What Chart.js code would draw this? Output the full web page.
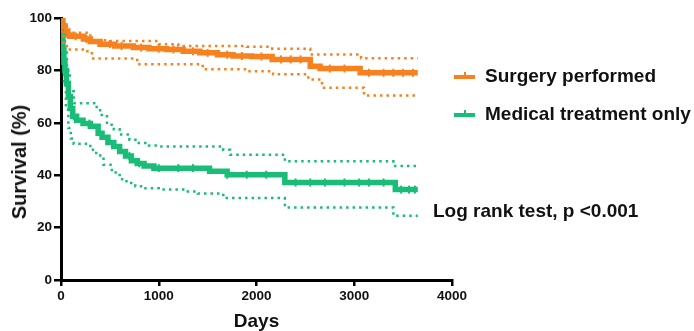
<!DOCTYPE html>
<html>
<head>
<meta charset="utf-8">
<script src="https://cdn.jsdelivr.net/npm/chart.js@4/dist/chart.umd.min.js"></script>
<style>
  html, body { margin: 0; padding: 0; background: #fff; }
  #wrap { position: relative; width: 694px; height: 331px; font-family: Arial, "Liberation Sans", sans-serif; font-weight: bold; color: #111; }
  #chart { position: absolute; left: 0; top: 0; }
  .leg { position: absolute; left: 485px; font-size: 19px; line-height: 22px; white-space: nowrap; }
  .mk { position: absolute; left: 454px; width: 21px; height: 4px; }
  .mk::after { content: ''; position: absolute; left: 10px; top: -3px; width: 2px; height: 3px; background: inherit; }
  #ytitle { position: absolute; left: 19px; top: 162px; font-size: 20px; line-height: 22px; white-space: nowrap;
            transform: translate(-50%, -50%) rotate(-90deg); }
</style>
</head>
<body>
<div id="wrap">
  <canvas id="chart" width="694" height="331"></canvas>
  <div id="ytitle">Survival (%)</div>
  <div class="mk" style="top:75px;background:#f7811e"></div>
  <div class="leg" style="top:65px">Surgery performed</div>
  <div class="mk" style="top:113px;background:#19bd78"></div>
  <div class="leg" style="top:103px">Medical treatment only</div>
  <div class="leg" style="left:433px;top:200px">Log rank test, p &lt;0.001</div>
</div>
<script>
// Kaplan-Meier estimates (days, survival %)
const surgeryDays = [0, 20, 40, 70, 90, 230, 300, 400, 550, 740, 900, 1080, 1250, 1420, 1600, 1760, 1950, 2160, 2550, 2650, 3060, 3650];
const surgerySurv = [100, 97, 95, 93.5, 93, 92, 91, 90, 89.3, 88.7, 88.3, 88, 87.3, 86.7, 86, 85.5, 85.3, 84.2, 81.6, 80.7, 79.1, 79.1];
const surgeryUpperDays = [0, 20, 60, 300, 500, 1000, 1200, 1900, 2160, 2550, 3070, 3650];
const surgeryUpperSurv = [100, 97, 94.4, 91.5, 91.2, 90, 89.3, 89, 88.3, 86.1, 84.6, 84.6];
const surgeryLowerDays = [0, 10, 25, 60, 270, 330, 780, 1450, 1900, 2170, 2530, 2670, 3100, 3650];
const surgeryLowerSurv = [100, 93, 90, 88, 86.5, 84.5, 82.3, 80.4, 79.7, 78.5, 76.5, 73.4, 70.4, 70.4];
const surgeryCensored = [150, 260, 500, 620, 820, 1000, 1150, 1350, 1500, 1700, 1850, 2050, 2250, 2350, 2450, 2750, 2900, 3150, 3300, 3400, 3500, 3600];

const medicalDays = [0, 10, 20, 30, 40, 55, 75, 95, 120, 160, 225, 300, 380, 420, 480, 540, 600, 660, 720, 780, 850, 950, 1520, 1700, 2290, 3420, 3650];
const medicalSurv = [100, 94, 88, 83, 80, 75, 70, 65.5, 62.5, 61, 59.7, 58.7, 56, 54.5, 52.5, 51, 49, 47.3, 45.5, 44.5, 43.5, 42.7, 41.5, 40.2, 37.2, 34.5, 34.5];
const medicalUpperDays = [0, 20, 40, 60, 90, 130, 340, 400, 470, 540, 600, 700, 780, 900, 1000, 1660, 1730, 2290, 3400, 3650];
const medicalUpperSurv = [100, 95, 88, 80, 72, 67.5, 66, 63, 59.3, 57.5, 55.5, 53.5, 52.3, 51.3, 51, 49.7, 47.8, 45.3, 43.5, 43.5];
const medicalLowerDays = [0, 15, 30, 50, 75, 100, 130, 300, 360, 435, 520, 600, 670, 760, 840, 1000, 1250, 1400, 1660, 2290, 3400, 3650];
const medicalLowerSurv = [100, 85, 75, 65, 58, 54, 52, 49.7, 47.5, 44, 41, 38.5, 37, 35.8, 35, 34.5, 33.8, 33, 31.3, 27.7, 24.5, 24.5];
const medicalCensored = [130, 290, 700, 800, 1000, 1200, 1350, 1700, 1900, 2100, 2400, 2550, 2700, 2900, 3050, 3150, 3300, 3480, 3560, 3620];

const xTicks = [0, 1000, 2000, 3000, 4000];
const yTicks = [0, 20, 40, 60, 80, 100];

const ORANGE = '#f7811e';
const GREEN = '#19bd78';
const FONT = 'Arial, "Liberation Sans", sans-serif';

const pts = (days, vals) => days.map((d, i) => ({ x: d, y: vals[i] }));
// survival value of a step curve at time t
function stepAt(days, vals, t) {
  let v = vals[0];
  for (let i = 0; i < days.length; i++) if (days[i] <= t) v = vals[i];
  return v;
}
const censorPts = (cens, days, vals) => cens.map(t => ({ x: t, y: stepAt(days, vals, t) }));

const dotted = (data, color) => ({
  data, borderColor: color, borderWidth: 2.5, borderDash: [2.5, 4],
  stepped: true, pointRadius: 0, fill: false,
});
const solid = (data, color) => ({
  data, borderColor: color, borderWidth: 5.5, stepped: true, pointRadius: 0, fill: false,
});
const ticks = (data, color) => ({
  data, showLine: false, pointStyle: 'line', pointRotation: 90, pointRadius: 4,
  pointBorderWidth: 2, pointBorderColor: color, pointBackgroundColor: color,
});

new Chart(document.getElementById('chart'), {
  type: 'line',
  data: {
    datasets: [
      dotted(pts(surgeryUpperDays, surgeryUpperSurv), ORANGE),
      dotted(pts(surgeryLowerDays, surgeryLowerSurv), ORANGE),
      dotted(pts(medicalUpperDays, medicalUpperSurv), GREEN),
      dotted(pts(medicalLowerDays, medicalLowerSurv), GREEN),
      solid(pts(surgeryDays, surgerySurv), ORANGE),
      solid(pts(medicalDays, medicalSurv), GREEN),
      ticks(censorPts(surgeryCensored, surgeryDays, surgerySurv), ORANGE),
      ticks(censorPts(medicalCensored, medicalDays, medicalSurv), GREEN),
    ],
  },
  options: {
    responsive: false,
    animation: false,
    layout: { padding: { top: 18, right: 242, left: 0, bottom: 0 } },
    plugins: { legend: { display: false }, tooltip: { enabled: false } },
    scales: {
      x: {
        type: 'linear', min: 0, max: 4000,
        afterBuildTicks: s => { s.ticks = xTicks.map(v => ({ value: v })); },
        afterFit: s => { s.height = 51; },
        ticks: { color: '#111', padding: 2, callback: v => String(v), font: { family: FONT, size: 13.5, weight: 'bold' } },
        grid: { drawOnChartArea: false, drawTicks: true, tickLength: 6, color: '#000', lineWidth: 2.5 },
        border: { color: '#000', width: 3 },
        title: { display: true, text: 'Days', color: '#111', padding: 0, font: { family: FONT, size: 19, weight: 'bold', lineHeight: 1 } },
      },
      y: {
        min: 0, max: 100,
        afterBuildTicks: s => { s.ticks = yTicks.map(v => ({ value: v })); },
        afterFit: s => { s.width = 61; },
        ticks: { color: '#111', padding: 2, callback: v => String(v), font: { family: FONT, size: 13.5, weight: 'bold' } },
        grid: { drawOnChartArea: false, drawTicks: true, tickLength: 7, color: '#000', lineWidth: 2.5 },
        border: { color: '#000', width: 3 },
      },
    },
  },
});
</script>
</body>
</html>
